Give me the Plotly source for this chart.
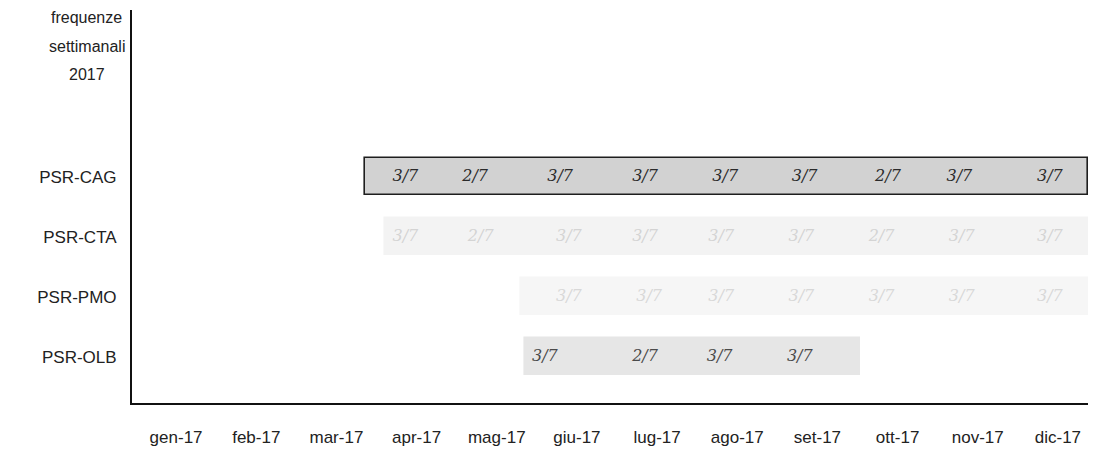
import plotly.graph_objects as go

# ---- data ----
months = ["gen-17", "feb-17", "mar-17", "apr-17", "mag-17", "giu-17",
          "lug-17", "ago-17", "set-17", "ott-17", "nov-17", "dic-17"]
month_idx = list(range(12))

rows = ["PSR-OLB", "PSR-PMO", "PSR-CTA", "PSR-CAG"]
row_pos = [0, 1, 2, 3]
title_lines = ["frequenze", "settimanali", "2017"]

bar_start = [4.35, 4.3, 2.6, 2.36]
bar_end = [8.53, 11.4, 11.4, 11.37]
bar_fill = ["#e6e6e6", "#f6f6f6", "#f3f3f3", "#d2d2d2"]
bar_line = ["#e6e6e6", "#f6f6f6", "#f3f3f3", "#1e1e1e"]

cag_x = [2.86, 3.73, 4.79, 5.85, 6.85, 7.84, 8.88, 9.77, 10.9]
cag_lbl = ["3/7", "2/7", "3/7", "3/7", "3/7", "3/7", "2/7", "3/7", "3/7"]

cta_x = [2.86, 3.8, 4.9, 5.85, 6.8, 7.8, 8.8, 9.8, 10.9]
cta_lbl = ["3/7", "2/7", "3/7", "3/7", "3/7", "3/7", "2/7", "3/7", "3/7"]

pmo_x = [4.9, 5.9, 6.8, 7.8, 8.8, 9.8, 10.9]
pmo_lbl = ["3/7", "3/7", "3/7", "3/7", "3/7", "3/7", "3/7"]

olb_x = [4.6, 5.85, 6.78, 7.78]
olb_lbl = ["3/7", "2/7", "3/7", "3/7"]

fig = go.Figure()

fig.add_trace(go.Bar(
    orientation="h",
    y=row_pos,
    base=bar_start,
    x=[e - s for s, e in zip(bar_start, bar_end)],
    width=0.62,
    marker=dict(color=bar_fill, line=dict(color=bar_line, width=1.6)),
    hoverinfo="skip",
    showlegend=False,
))

def add_labels(xs, lbls, ypos, color):
    fig.add_trace(go.Scatter(
        x=xs, y=[ypos] * len(xs), mode="text", text=lbls,
        textfont=dict(family="DejaVu Serif", size=16, color=color, style="italic"),
        hoverinfo="skip", showlegend=False,
    ))

add_labels(cag_x, cag_lbl, 3, "#2a2a2a")
add_labels(cta_x, cta_lbl, 2, "#d4d4d4")
add_labels(pmo_x, pmo_lbl, 1, "#d8d8d8")
add_labels(olb_x, olb_lbl, 0, "#4a4a4a")

# title lines, centred left of the y axis
for line, yp in zip(title_lines, [0.98, 0.906, 0.835]):
    fig.add_annotation(
        text=line, xref="paper", yref="paper", x=-0.047, y=yp,
        xanchor="center", yanchor="middle", showarrow=False,
        font=dict(size=16, color="#222"),
    )

fig.update_layout(
    width=1088, height=454,
    margin=dict(l=124, r=6, t=2, b=59),
    paper_bgcolor="white", plot_bgcolor="white",
    font=dict(family="Liberation Sans, Arial, sans-serif", size=17, color="#222"),
    bargap=0,
)
fig.update_xaxes(
    range=[-0.55, 11.4],
    tickmode="array", tickvals=month_idx, ticktext=months,
    showgrid=False, zeroline=False,
    showline=True, linecolor="#111", linewidth=2,
    ticks="", tickfont=dict(size=17), ticklabelstandoff=18,
)
fig.update_yaxes(
    range=[-0.77, 5.78],
    tickmode="array", tickvals=row_pos, ticktext=rows,
    showgrid=False, zeroline=False,
    showline=True, linecolor="#111", linewidth=2,
    ticks="", ticklabelstandoff=10,
)

fig.write_html("out.html")
